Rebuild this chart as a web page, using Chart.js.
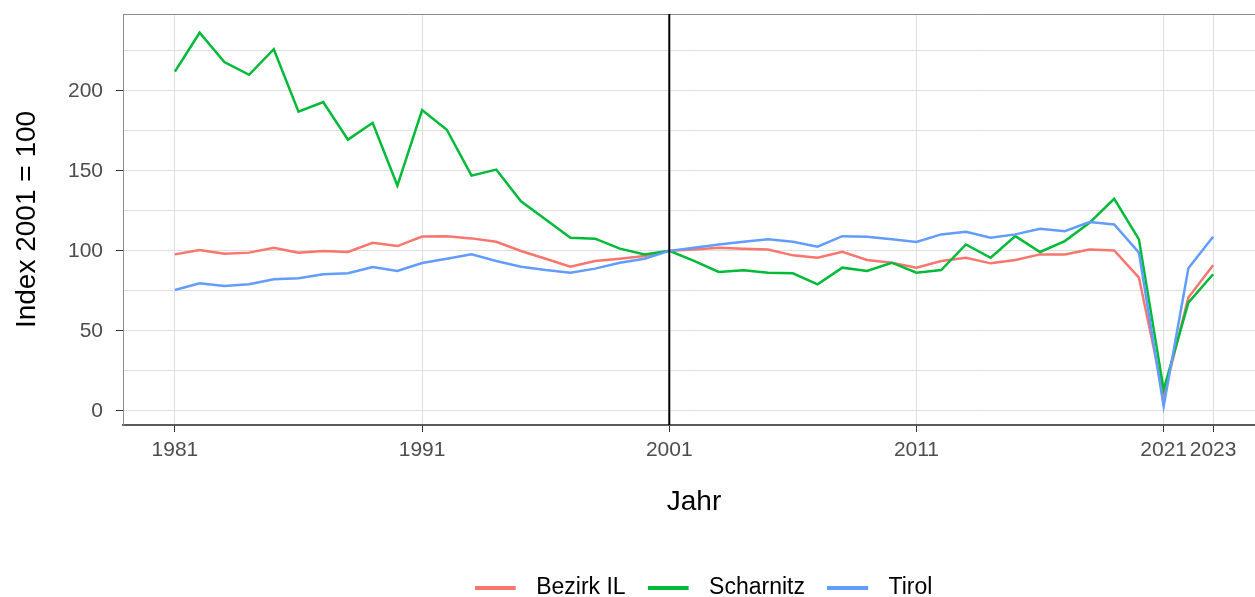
<!DOCTYPE html>
<html><head><meta charset="utf-8">
<script src="https://cdn.jsdelivr.net/npm/chart.js@4"></script>
<style>
html,body{margin:0;padding:0;overflow:hidden;background:#fff;width:1255px;height:597px}
#wrap{position:absolute;left:0;top:0;width:1265px;height:609px}
</style></head>
<body><div id="wrap"><canvas id="c"></canvas></div>
<script>
const years = [1981,1982,1983,1984,1985,1986,1987,1988,1989,1990,1991,1992,1993,1994,1995,1996,1997,1998,1999,2000,2001,2002,2003,2004,2005,2006,2007,2008,2009,2010,2011,2012,2013,2014,2015,2016,2017,2018,2019,2020,2021,2022,2023];
const bezirkIL = [97.8,100.5,98.2,98.9,102,98.9,99.9,99.3,105,103,109,109.2,107.8,105.7,99.9,95.1,90.1,93.7,95.1,96.8,100,100.9,102,101.4,100.9,97.2,95.7,99.4,94.3,92.6,89.5,93.7,95.7,92.2,94.3,97.8,97.8,100.9,100.3,83.3,9.5,70.8,91];
const scharnitz = [212,236.3,218,210,226,187,193,169.5,180,140.8,188,175.7,147,150.8,131,119.6,108.2,107.6,101.4,97.8,100,93.7,86.8,87.9,86.4,86,79.1,89.5,87.4,92.6,86.4,88,104,95.7,109.2,99.3,106.1,117.5,132.5,107.2,13.3,67.7,85.4];
const tirol = [75.6,79.8,78.1,79.1,82.2,82.9,85.4,86,89.9,87.4,92.4,95.1,97.8,93.7,90.1,88,86.4,88.9,92.6,95.1,100,102,104,105.7,107.2,105.7,102.6,109.2,108.8,107.2,105.5,110.3,112,108.2,110.3,113.8,112.3,118,116.5,98.9,2.9,89.1,108.8];
const seriesNames = ['Bezirk IL','Scharnitz','Tirol'];
const xTicks = [1981,1991,2001,2011,2021,2023];
const yTicks = [0,25,50,75,100,125,150,175,200,225];
const yLabelled = [0,50,100,150,200];
const refYear = 2001;

const F = "'Liberation Sans', Arial, sans-serif";
const colors = ['#F8766D','#00BA38','#619CFF'];
const vals = [bezirkIL, scharnitz, tirol];

function lineKey(color){
  const c = document.createElement('canvas');
  c.width = 50; c.height = 4;
  const g = c.getContext('2d');
  g.fillStyle = color; g.fillRect(0,0,41,4);
  return c;
}
const keys = colors.map(lineKey);

const frame = {
  id:'frame',
  afterLayout(chart){
    if (chart.legend){ chart.legend.left += 71; chart.legend.right += 71; }
  },
  afterDatasetsDraw(chart){
    const {ctx, chartArea:a, scales} = chart;
    ctx.save();
    ctx.strokeStyle = '#8c8c8c'; ctx.lineWidth = 1;
    ctx.beginPath(); ctx.moveTo(a.left, a.top+0.5); ctx.lineTo(a.right, a.top+0.5); ctx.stroke();
    const x = scales.x.getPixelForValue(refYear);
    ctx.strokeStyle = '#000'; ctx.lineWidth = 2;
    ctx.beginPath(); ctx.moveTo(x, a.top); ctx.lineTo(x, a.bottom); ctx.stroke();
    ctx.restore();
  }
};

new Chart(document.getElementById('c'), {
  type:'line',
  data:{
    datasets: seriesNames.map((n,i)=>({
      label:n,
      data: years.map((yr,k)=>({x:yr, y:vals[i][k]})),
      borderColor: colors[i], backgroundColor: colors[i],
      borderWidth: 2.5, pointRadius: 0, tension: 0, fill:false,
      order: 2-i
    }))
  },
  options:{
    responsive:true, maintainAspectRatio:false, animation:false,
    layout:{padding:{top:14,left:0,right:0,bottom:0}},
    plugins:{
      tooltip:{enabled:false},
      legend:{
        position:'bottom',
        labels:{
          usePointStyle:true, pointStyleWidth:50,
          font:{family:F,size:23}, color:'#000', padding:22,
          sort:(a,b)=>a.datasetIndex-b.datasetIndex,
          generateLabels:(chart)=>Chart.defaults.plugins.legend.labels.generateLabels(chart).map(l=>Object.assign(l,{pointStyle:keys[l.datasetIndex], lineWidth:0}))
        }
      }
    },
    scales:{
      x:{
        type:'linear', min:1978.9, max:2025.1,
        afterBuildTicks:s=>{s.ticks = xTicks.map(v=>({value:v}));},
        ticks:{callback:v=>String(v), font:{family:F,size:21}, color:'#4d4d4d', padding:6, maxRotation:0, autoSkip:false},
        grid:{color:'#dedede', lineWidth:1, tickLength:7, tickColor:'#333'},
        border:{color:'#595959', width:2},
        title:{display:true, text:'Jahr', font:{family:F,size:28}, color:'#000', padding:{top:0,bottom:35}},
        afterFit:s=>{s.height=129; s.paddingLeft=0; s.paddingRight=0;}
      },
      y:{
        min:-8.8, max:248,
        afterBuildTicks:s=>{s.ticks = yTicks.map(v=>({value:v}));},
        ticks:{callback:v=> yLabelled.includes(v)?String(v):'', font:{family:F,size:21}, color:'#4d4d4d', padding:13},
        grid:{color:'#dedede', lineWidth:1, tickLength:7, tickColor:c=> (c.tick && yLabelled.includes(c.tick.value)) ? '#333' : 'rgba(0,0,0,0)'},
        border:{color:'#8c8c8c', width:1},
        title:{display:true, text:'Index 2001 = 100', font:{family:F,size:28}, color:'#000', padding:{top:10,bottom:0}},
        afterFit:s=>{s.width=123; s.paddingTop=0; s.paddingBottom=0;}
      }
    }
  },
  plugins:[frame]
});
</script>
</body></html>
